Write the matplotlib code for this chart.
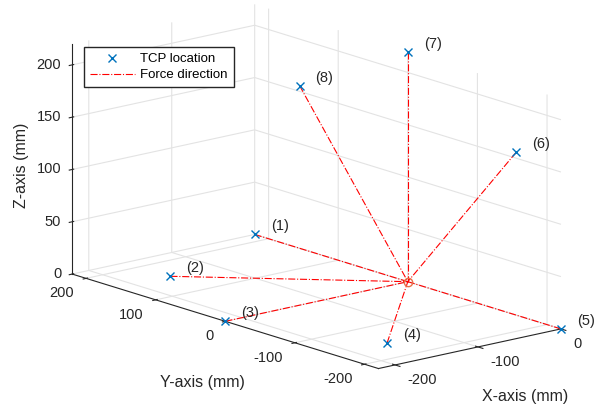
import matplotlib
matplotlib.use('Agg')
import matplotlib.pyplot as plt
from matplotlib.ticker import NullFormatter
from mpl_toolkits.mplot3d import proj3d

plt.rcParams['font.family'] = ['Liberation Sans', 'DejaVu Sans']
plt.rcParams['axes.unicode_minus'] = False

# ---- data ----
point_labels = ['(1)', '(2)', '(3)', '(4)', '(5)', '(6)', '(7)', '(8)']
tcp_x = [0, -155.6, -220, -155.6, 0, 0, 0, 0]
tcp_y = [220, 155.6, 0, -155.6, -220, -155.6, 0, 155.6]
tcp_z = [0, 0, 0, 0, 0, 155.6, 220, 155.6]
center = [0, 0, 0]
xlim = (-220, 0)
ylim = (-220, 220)
zlim = (0, 220)
xticks = [-200, -100, 0]
yticks = [-200, -100, 0, 100, 200]
zticks = [0, 50, 100, 150, 200]
xticklabels = ['-200', '-100', '0']
yticklabels = ['-200', '-100', '0', '100', '200']
zticklabels = ['0', '50', '100', '150', '200']

W, H = 604, 412
TXT = '#262626'
fig = plt.figure(figsize=(W / 100, H / 100), dpi=100)
ax = fig.add_axes([9 / W, 14 / H, 1, 1], projection='3d', proj_type='ortho')
ax.set_box_aspect((xlim[1] - xlim[0], ylim[1] - ylim[0], zlim[1] - zlim[0]), zoom=1.375)
ax.view_init(elev=15, azim=-130)

# force direction lines
for i in range(len(tcp_x)):
    ax.plot([tcp_x[i], center[0]], [tcp_y[i], center[1]], [tcp_z[i], center[2]],
            linestyle='-.', color='red', lw=0.8, clip_on=False,
            label='Force direction' if i == 0 else None)
ax.plot(tcp_x, tcp_y, tcp_z, 'x', color='#0072BD', ms=6, mew=1.0, clip_on=False,
        label='TCP location')
ax.plot([center[0]], [center[1]], [center[2]], 'o', mfc='none', mec='#E8704A',
        ms=6, mew=1.0, clip_on=False)

ax.set_xlim(xlim)
ax.set_ylim(ylim)
ax.set_zlim(zlim)
ax.set_xticks(xticks)
ax.set_yticks(yticks)
ax.set_zticks(zticks)
for a in (ax.xaxis, ax.yaxis, ax.zaxis):
    a.set_major_formatter(NullFormatter())
    a.set_tick_params(label1On=False, label2On=False)
    a.set_pane_color((1, 1, 1, 0))
    a.pane.set_edgecolor((1, 1, 1, 0))
    a._axinfo['grid'].update(color='#e3e3e3', linewidth=0.8)
    a._axinfo['tick'].update(color=TXT)
    a.line.set_color(TXT)
    a.line.set_linewidth(0.8)
    a.label.set_text('')
    a.label.set_visible(False)
    a.offsetText.set_visible(False)
ax.tick_params(colors=TXT)

h, l = ax.get_legend_handles_labels()
order = [l.index('TCP location'), l.index('Force direction')]
ax.legend([h[k] for k in order], [l[k] for k in order], loc='upper left',
          bbox_to_anchor=(84 / W, 1 - 47 / H), bbox_transform=fig.transFigure,
          fancybox=False, edgecolor=TXT, framealpha=1, borderaxespad=0,
          fontsize=9.5, handlelength=3.4, handletextpad=0.4, borderpad=0.45,
          labelspacing=0.3)

# establish the projection, then place 2D annotations at projected 3D points
fig.canvas.draw()
M = ax.get_proj()

def label3d(x, y, z, s, dx, dy, ha):
    xs, ys, _ = proj3d.proj_transform(x, y, z, M)
    ax.annotate(s, xy=(xs, ys), xycoords='data', xytext=(dx, dy),
                textcoords='offset pixels', ha=ha, va='center',
                fontsize=10.5, color=TXT, annotation_clip=False)

for i, s in enumerate(point_labels):
    label3d(tcp_x[i], tcp_y[i], tcp_z[i], s, 16, 8, 'left')
for v, s in zip(xticks, xticklabels):
    label3d(v, ylim[0], zlim[0], s, 12.5, -15, 'left')
for v, s in zip(yticks, yticklabels):
    label3d(xlim[0], v, zlim[0], s, -12, -15, 'right')
for v, s in zip(zticks, zticklabels):
    label3d(xlim[0], ylim[1], v, s, -11, 0, 'right')

fig.text(22 / W, 1 - 165 / H, 'Z-axis (mm)', rotation=90, ha='center', va='center', fontsize=11.5, color=TXT)
fig.text(202 / W, 1 - 383 / H, 'Y-axis (mm)', ha='center', va='center', fontsize=11.5, color=TXT)
fig.text(525 / W, 1 - 396 / H, 'X-axis (mm)', ha='center', va='center', fontsize=11.5, color=TXT)

fig.savefig('out.png', dpi=100)
